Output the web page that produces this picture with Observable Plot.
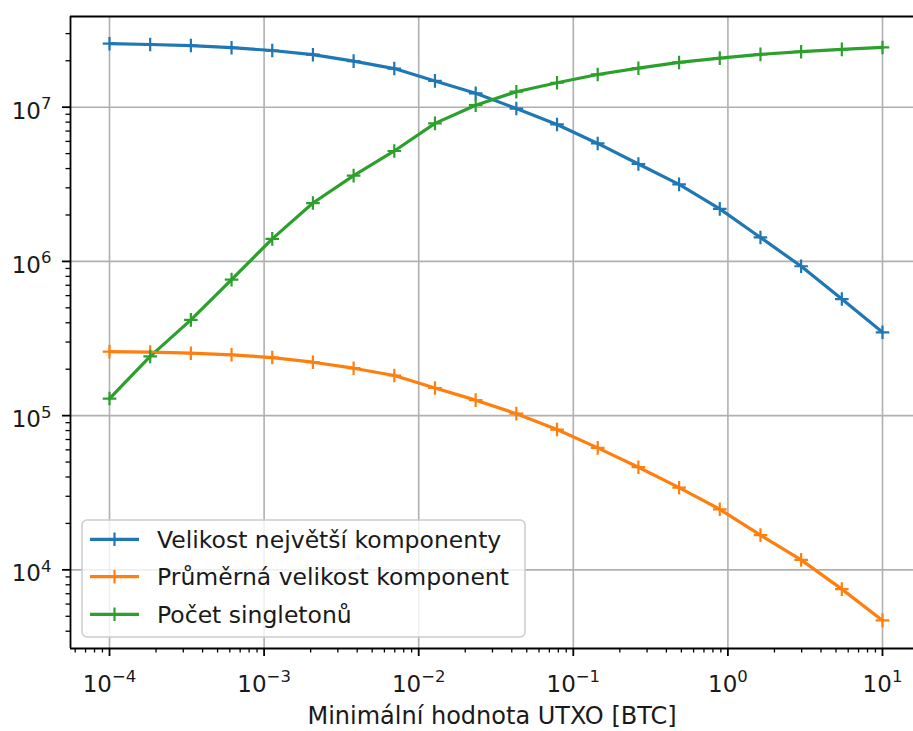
<!DOCTYPE html>
<html><head><meta charset="utf-8">
<script src="https://cdn.jsdelivr.net/npm/d3@7"></script>
<script src="https://cdn.jsdelivr.net/npm/@observablehq/plot@0.6"></script>
<style>
body{margin:0;background:#fff;}
#chart{position:relative;width:913px;height:731px;overflow:hidden;}
</style>
</head><body><div id="chart"></div>
<script>
// ---- data ----
const utxoMin = [1e-4, 1.833e-4, 3.360e-4, 6.158e-4, 1.129e-3, 2.069e-3, 3.793e-3, 6.952e-3, 1.274e-2, 2.336e-2,
                 4.281e-2, 7.848e-2, 0.1438, 0.2637, 0.4833, 0.8859, 1.624, 2.976, 5.456, 10];
const largestComponent = [2.58e7, 2.55e7, 2.51e7, 2.43e7, 2.33e7, 2.19e7, 1.99e7, 1.78e7, 1.48e7, 1.23e7,
                          9.8e6, 7.73e6, 5.82e6, 4.28e6, 3.16e6, 2.19e6, 1.43e6, 9.3e5, 5.7e5, 3.47e5];
const meanComponent = [2.60e5, 2.58e5, 2.54e5, 2.48e5, 2.38e5, 2.22e5, 2.03e5, 1.82e5, 1.51e5, 1.26e5,
                       1.03e5, 8.12e4, 6.18e4, 4.63e4, 3.41e4, 2.47e4, 1.68e4, 1.16e4, 7.5e3, 4.7e3];
const singletons = [1.29e5, 2.42e5, 4.18e5, 7.62e5, 1.40e6, 2.39e6, 3.60e6, 5.2e6, 7.85e6, 1.03e7,
                    1.26e7, 1.44e7, 1.63e7, 1.79e7, 1.95e7, 2.08e7, 2.20e7, 2.29e7, 2.37e7, 2.44e7];
const seriesNames = ["Velikost největší komponenty", "Průměrná velikost komponent", "Počet singletonů"];
const seriesColors = ["#1f77b4", "#ff7f0e", "#2ca02c"];
const xTicks = [1e-4, 1e-3, 1e-2, 1e-1, 1, 10];
const xTickLabels = ["10⁻⁴", "10⁻³", "10⁻²", "10⁻¹", "10⁰", "10¹"];
const yTicks = [1e4, 1e5, 1e6, 1e7];
const yTickLabels = ["10⁴", "10⁵", "10⁶", "10⁷"];
const xLabel = "Minimální hodnota UTXO [BTC]";

// ---- build ----
const seriesValues = [largestComponent, meanComponent, singletons];
const rows = [];
seriesValues.forEach((vals, s) => vals.forEach((v, i) => rows.push({series: seriesNames[s], x: utxoMin[i], y: v})));

const xDomain = [Math.pow(10, -4.2523), Math.pow(10, 1.2005)];
const yDomain = [Math.pow(10, 3.49), Math.pow(10, 7.588)];
const minorOf = (dom) => {
  const out = [];
  for (let e = Math.floor(Math.log10(dom[0])); e <= Math.ceil(Math.log10(dom[1])); e++)
    for (let m = 2; m <= 9; m++) { const v = m * Math.pow(10, e); if (v >= dom[0] && v <= dom[1]) out.push(v); }
  return out;
};
const xMinor = minorOf(xDomain), yMinor = minorOf(yDomain);
const xLab = new Map(xTicks.map((t, i) => [t, xTickLabels[i]]));
const yLab = new Map(yTicks.map((t, i) => [t, yTickLabels[i]]));

const plus = {draw(ctx, size) { const r = Math.sqrt(size / Math.PI); ctx.moveTo(-r, 0); ctx.lineTo(r, 0); ctx.moveTo(0, -r); ctx.lineTo(0, r); }};
const font = "'DejaVu Sans', sans-serif";

const svg = Plot.plot({
  width: 913, height: 731,
  marginLeft: 70, marginRight: 0, marginTop: 16, marginBottom: 83,
  style: {fontFamily: font, fontSize: "23px", color: "#000", background: "#fff", overflow: "visible"},
  x: {type: "log", domain: xDomain, axis: null},
  y: {type: "log", domain: yDomain, axis: null},
  color: {domain: seriesNames, range: seriesColors},
  marks: [
    Plot.gridX(xTicks, {stroke: "#b0b0b0", strokeOpacity: 1, strokeWidth: 1.6}),
    Plot.gridY(yTicks, {stroke: "#b0b0b0", strokeOpacity: 1, strokeWidth: 1.6}),
    Plot.line(rows, {x: "x", y: "y", z: "series", stroke: "series", strokeWidth: 3.2}),
    Plot.dot(rows, {x: "x", y: "y", stroke: "series", fill: "none", symbol: plus, r: 6.8, strokeWidth: 2.2}),
    Plot.ruleX([xDomain[0]], {stroke: "#000", strokeWidth: 1.8}),
    Plot.ruleY(yDomain, {stroke: "#000", strokeWidth: 1.8}),
    Plot.axisX(xTicks, {anchor: "bottom", tickSize: 8, strokeWidth: 1.8, tickPadding: 19, tickFormat: d => xLab.get(d), fontSize: 23, fill: "#1a1a1a", label: null}),
    Plot.axisX(xMinor, {anchor: "bottom", tickSize: 4.5, strokeWidth: 1.3, tickFormat: () => "", label: null}),
    Plot.axisY(yTicks, {anchor: "left", tickSize: 8, strokeWidth: 1.8, tickPadding: 11, tickFormat: d => yLab.get(d), fontSize: 23, fill: "#1a1a1a", label: null}),
    Plot.axisY(yMinor, {anchor: "left", tickSize: 4.5, strokeWidth: 1.3, tickFormat: () => "", label: null}),
    Plot.text([xLabel], {frameAnchor: "bottom", dy: 75, fontSize: 24, fill: "#1a1a1a"})
  ]
});

// ---- superscript exponents rendered like mathtext ----
const supToNormal = {"⁻": "−", "⁰": "0", "¹": "1", "²": "2", "³": "3", "⁴": "4", "⁵": "5", "⁶": "6", "⁷": "7", "⁸": "8", "⁹": "9"};
const xSet = new Set(xTickLabels), ySet = new Set(yTickLabels);
d3.select(svg).selectAll("text").each(function() {
  const t = this.textContent;
  if (!xSet.has(t) && !ySet.has(t)) return;
  const exp = [...t.slice(2)].map(c => supToNormal[c] || c).join("");
  const sel = d3.select(this);
  sel.text(null);
  sel.append("tspan").attr("dy", ySet.has(t) ? 4 : 0).text("10");
  sel.append("tspan").attr("dy", -9.5).attr("font-size", 16.5).text(exp);
});

// ---- legend ----
const g = d3.select(svg).append("g").attr("font-family", font).attr("font-size", 23.5).attr("text-anchor", "start");
g.append("rect").attr("x", 82).attr("y", 520).attr("width", 443).attr("height", 117).attr("rx", 5)
  .attr("fill", "#fff").attr("fill-opacity", 0.8).attr("stroke", "#cccccc").attr("stroke-width", 1.5);
const rowY = [539.3, 576.7, 614.3];
seriesNames.forEach((name, i) => {
  const y = rowY[i], c = seriesColors[i];
  g.append("line").attr("x1", 90).attr("x2", 139).attr("y1", y).attr("y2", y).attr("stroke", c).attr("stroke-width", 3.2);
  g.append("path").attr("d", `M${114.5 - 6.8},${y}H${114.5 + 6.8}M114.5,${y - 6.8}V${y + 6.8}`).attr("stroke", c).attr("stroke-width", 2.2).attr("fill", "none");
  g.append("text").attr("x", 157).attr("y", y).attr("dy", "0.35em").attr("fill", "#1a1a1a").attr("text-anchor", "start").text(name);
});

document.getElementById("chart").appendChild(svg);
</script>
</body></html>
